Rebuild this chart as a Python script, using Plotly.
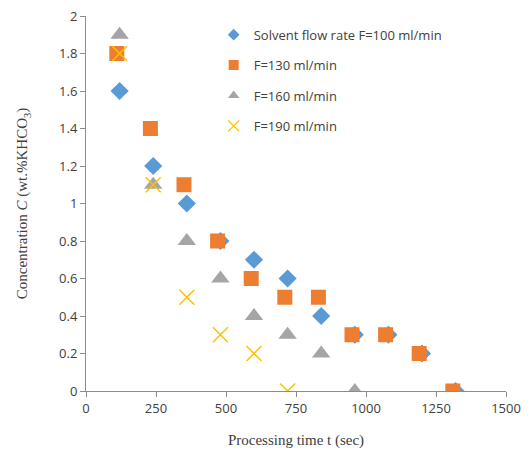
import plotly.graph_objects as go

t_100 = [120, 240, 360, 480, 600, 720, 840, 960, 1080, 1200, 1320]
c_100 = [1.6, 1.2, 1.0, 0.8, 0.7, 0.6, 0.4, 0.3, 0.3, 0.2, 0.0]
t_130 = [110, 230, 350, 470, 590, 710, 830, 950, 1070, 1190, 1310]
c_130 = [1.8, 1.4, 1.1, 0.8, 0.6, 0.5, 0.5, 0.3, 0.3, 0.2, 0.0]
t_160 = [120, 240, 360, 480, 600, 720, 840, 960]
c_160 = [1.9, 1.1, 0.8, 0.6, 0.4, 0.3, 0.2, 0.0]
t_190 = [120, 240, 360, 480, 600, 720]
c_190 = [1.8, 1.1, 0.5, 0.3, 0.2, 0.0]

names = ["Solvent flow rate F=100 ml/min", "F=130 ml/min", "F=160 ml/min", "F=190 ml/min"]
colors = ["#5B9BD5", "#ED7D31", "#A5A5A5", "#FFC000"]
symbols = ["diamond", "square", "triangle-up", "x-thin"]
sizes = [14, 15, 16, 15]
legend_sizes = [9, 10, 10, 11]
series = [(t_100, c_100), (t_130, c_130), (t_160, c_160), (t_190, c_190)]

fig = go.Figure()
for i, (tx, cy) in enumerate(series):
    mk = dict(symbol=symbols[i], size=sizes[i], color=colors[i])
    if symbols[i] == "x-thin":
        mk["line"] = dict(color=colors[i], width=1.5)
    fig.add_trace(go.Scatter(x=tx, y=cy, mode="markers", name=names[i], legendgroup=f"g{i}",
                             showlegend=False, marker=mk))
for i in range(len(series)):
    mk = dict(symbol=symbols[i], size=legend_sizes[i], color=colors[i])
    if symbols[i] == "x-thin":
        mk["line"] = dict(color=colors[i], width=1.3)
    fig.add_trace(go.Scatter(x=[None], y=[None], mode="markers", name=names[i],
                             legendgroup=f"g{i}", showlegend=True, marker=mk))

axis_common = dict(showline=True, linecolor="#8c8c8c", linewidth=1, ticks="outside",
                   tickcolor="#8c8c8c", ticklen=5, showgrid=False, zeroline=False,
                   automargin=False,
                   tickfont=dict(family="Open Sans", size=13, color="#404040"))

fig.update_layout(
    width=528, height=450,
    margin=dict(l=86, r=22, t=16, b=59),
    plot_bgcolor="white", paper_bgcolor="white",
    showlegend=True,
    legend=dict(x=0.304, y=0.99, xanchor="left", yanchor="top",
                traceorder="grouped", tracegroupgap=10.5,
                font=dict(family="Open Sans", size=13, color="#404040"),
                bgcolor="rgba(0,0,0,0)", itemwidth=30),
    xaxis=dict(range=[0, 1500], tickvals=[0, 250, 500, 750, 1000, 1250, 1500],
               title=dict(text="Processing time t (sec)", standoff=18,
                          font=dict(family="Liberation Serif", size=15, color="#404040")),
               **axis_common),
    yaxis=dict(range=[0, 2], dtick=0.2,
               title=dict(text="Concentration <i>C</i> (wt.%KHCO<sub>3</sub>)", standoff=27,
                          font=dict(family="Liberation Serif", size=15, color="#404040")),
               **axis_common),
)

fig.write_html("out.html")
